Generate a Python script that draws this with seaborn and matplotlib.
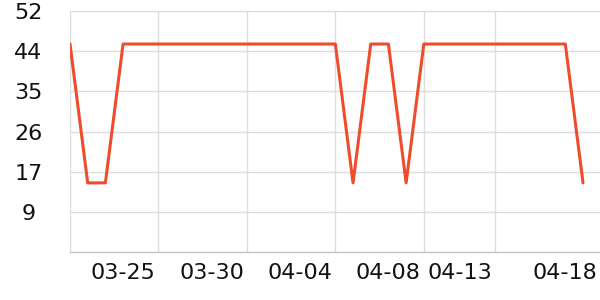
import matplotlib
matplotlib.use("Agg")
import matplotlib.pyplot as plt
import seaborn as sns
import pandas as pd
import numpy as np

# ---- data ----
point_index = list(range(30))
values = [45, 15, 15, 45, 45, 45, 45, 45, 45, 45,
          45, 45, 45, 45, 45, 45, 15, 45, 45, 15,
          45, 45, 45, 45, 45, 45, 45, 45, 45, 15]
x_label_pos = [3, 8, 13, 18, 22.05, 28]
x_labels = ["03-25", "03-30", "04-04", "04-08", "04-13", "04-18"]
x_grid_pos = [0, 5, 10, 15, 20, 24]
y_tick_vals = [8.7, 17.4, 26.1, 34.8, 43.5, 52.2]
y_tick_labels = ["9", "17", "26", "35", "44", "52"]

df = pd.DataFrame({"idx": point_index, "value": values})

sns.set_style("white")
plt.rcParams["font.family"] = ["DejaVu Sans"]

fig = plt.figure(figsize=(6, 3), dpi=100)
ax = fig.add_axes([70 / 600, 1 - 252.3 / 300, 530 / 600, (252.3 - 10.7) / 300])

sns.lineplot(data=df, x="idx", y="value", ax=ax, color="#EE4D2D", linewidth=2.2)

ax.set_xlim(0, 29.96)
ax.set_ylim(0, 52.2)

# y axis
ax.set_yticks(y_tick_vals)
ax.set_yticklabels(y_tick_labels, fontsize=16, color="#111111", ha="center")
ax.tick_params(axis="y", length=0, pad=30)

# x axis: gridlines/ticks at major positions, labels at minor positions
ax.set_xticks(x_grid_pos)
ax.set_xticklabels([""] * len(x_grid_pos))
ax.set_xticks(x_label_pos, minor=True)
ax.set_xticklabels(x_labels, minor=True, fontsize=16, color="#111111")
ax.tick_params(axis="x", which="major", length=4, width=1, color="#cccccc", direction="out")
ax.tick_params(axis="x", which="minor", length=0, pad=8)

ax.grid(True, which="major", color="#dcdcdc", linewidth=1)
ax.set_axisbelow(True)

for s in ["top", "right", "left"]:
    ax.spines[s].set_visible(False)
ax.spines["bottom"].set_color("#c4c4c4")
ax.spines["bottom"].set_linewidth(1)

ax.set_xlabel("")
ax.set_ylabel("")

fig.savefig("out.png", dpi=100)
